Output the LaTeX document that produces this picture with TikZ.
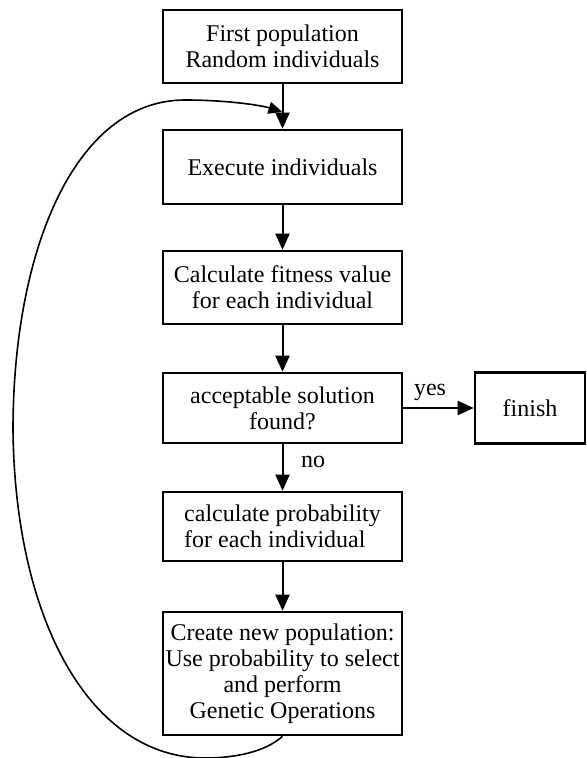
\documentclass[tikz,border=0pt]{standalone}
\usepackage{fontspec}
\setmainfont{Liberation Serif}
\usetikzlibrary{arrows.meta}

\begin{document}
\begin{tikzpicture}[x=0.5pt, y=-0.5pt, >={Triangle[length=8pt,width=7pt]},
  box/.style={draw, line width=1.3pt, minimum width=119.5pt, align=center,
    inner sep=1pt, font=\fontsize{12}{13}\selectfont},
  flow/.style={->, line width=1pt},
  back/.style={-{Triangle[length=7pt,width=6pt]}, line width=0.8pt}]
  \useasboundingbox (0,0) rectangle (587,758);
  \node[box, minimum height=36.5pt] (first) at (282.5,46.5) {First population\\Random individuals};
  \node[box, minimum height=37pt] (exec) at (282.5,167) {Execute individuals};
  \node[box, minimum height=36.5pt] (fit) at (282.5,287.5) {Calculate fitness value\\for each individual};
  \node[box, minimum height=35pt] (check) at (282.5,408) {acceptable solution\\found?};
  \node[box, minimum height=34.5pt, align=left] (prob) at (282.5,526.5) {calculate probability\\for each individual};
  \node[box, minimum height=61.5pt] (gen) at (282.5,673.5) {Create new population:\\Use probability to select\\and perform\\Genetic Operations};
  \node[box, minimum width=55pt, minimum height=35.5pt] (finish) at (530,408) {finish};
  \draw[flow] (first) -- (exec);
  \draw[flow] (exec) -- (fit);
  \draw[flow] (fit) -- (check);
  \draw[flow] (check) -- (prob);
  \draw[flow] (prob) -- (gen);
  \draw[flow] (check) -- (finish);
  \node[font=\fontsize{12}{13}\selectfont] (yes) at (430,392) {yes};
  \node[font=\fontsize{12}{13}\selectfont, right] (no) at (294,462) {no};
  \coordinate (entry) at (282.5,112);
  \draw[back] (gen.south) .. controls (265,752) and (235,758) .. (205,758)
    .. controls (90,758) and (15,620) .. (13,430)
    .. controls (13,250) and (75,100) .. (185,100)
    .. controls (225,100) and (260,105) .. (entry);
\end{tikzpicture}
\end{document}
